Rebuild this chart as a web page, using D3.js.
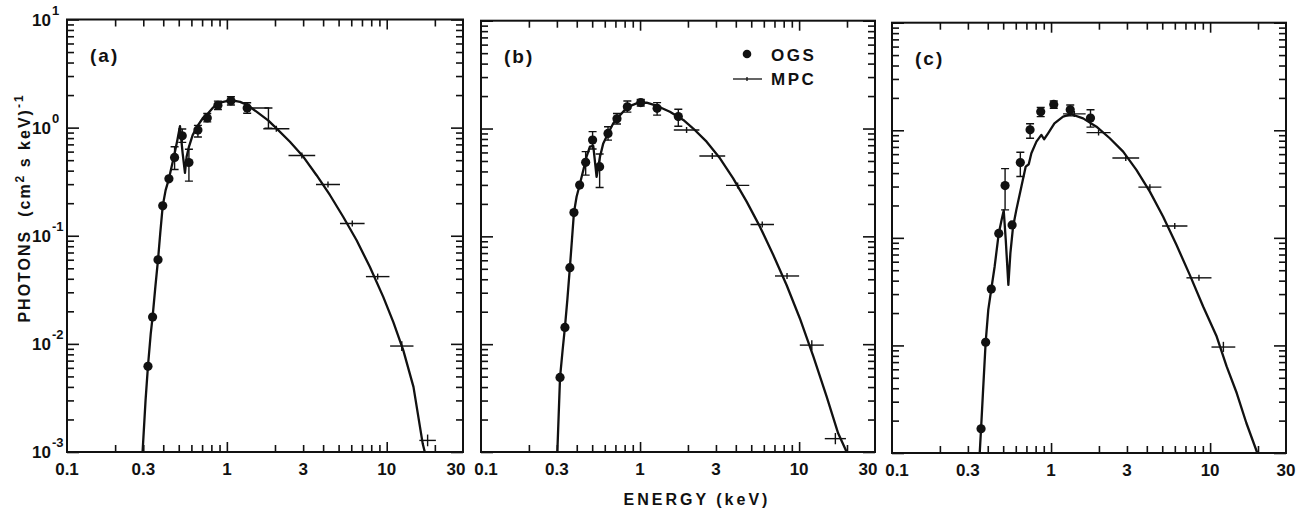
<!DOCTYPE html>
<html>
<head>
<meta charset="utf-8">
<script src="https://cdnjs.cloudflare.com/ajax/libs/d3/7.8.5/d3.min.js"></script>
<style>
  body { margin: 0; background: #fff; }
  text { font-family: "Liberation Sans", Arial, sans-serif; font-weight: bold; fill: #111; }
</style>
</head>
<body>
<div id="chart"></div>
<script>
// x ticks (keV) and y decades
var xTickValues = [0.1, 0.3, 1, 3, 10, 30];
var xTickLabels = ["0.1", "0.3", "1", "3", "10", "30"];
var yDecades = [1, 0, -1, -2, -3];

// model curves [energy keV, photons]
var modelA = [[0.297,0.001],[0.310,0.0030],[0.321,0.00624],[0.334,0.0124],[0.343,0.0177],[0.357,0.0336],[0.371,0.060],[0.383,0.105],[0.397,0.189],[0.414,0.264],[0.434,0.336],[0.456,0.466],[0.471,0.577],[0.490,0.766],[0.509,1.03],[0.529,0.577],[0.547,0.382],[0.560,0.537],[0.579,0.665],[0.611,0.853],[0.659,1.05],[0.712,1.24],[0.754,1.33],[0.823,1.54],[0.906,1.70],[1.06,1.80],[1.21,1.73],[1.34,1.62],[1.54,1.40],[1.82,1.16],[2.05,0.98],[2.48,0.74],[3.01,0.537],[3.64,0.363],[4.42,0.237],[5.35,0.149],[6.48,0.0908],[7.85,0.0514],[9.51,0.0272],[11.0,0.0159],[12.7,0.0087],[14.7,0.0040],[16.8,0.00119],[17.3,0.001]];
var modelB = [[0.302,0.001],[0.314,0.00492],[0.326,0.00883],[0.337,0.0143],[0.349,0.0257],[0.362,0.0512],[0.373,0.0925],[0.384,0.166],[0.399,0.233],[0.417,0.299],[0.440,0.412],[0.461,0.548],[0.484,0.679],[0.508,0.689],[0.533,0.357],[0.560,0.548],[0.587,0.728],[0.629,0.90],[0.679,1.12],[0.748,1.33],[0.832,1.58],[0.951,1.71],[1.10,1.74],[1.28,1.62],[1.54,1.43],[1.87,1.20],[2.16,1.00],[2.62,0.755],[3.18,0.529],[3.85,0.345],[4.68,0.210],[5.67,0.123],[6.88,0.0672],[8.34,0.0354],[10.1,0.0174],[12.3,0.00766],[14.9,0.00326],[17.6,0.00149],[19.9,0.001]];
var modelC = [[0.356,0.001],[0.363,0.00168],[0.373,0.0036],[0.388,0.0107],[0.403,0.0214],[0.421,0.0334],[0.442,0.0542],[0.469,0.110],[0.489,0.147],[0.504,0.180],[0.519,0.0958],[0.539,0.0366],[0.555,0.0721],[0.577,0.127],[0.605,0.182],[0.651,0.300],[0.693,0.460],[0.724,0.483],[0.752,0.611],[0.809,0.785],[0.869,0.906],[0.904,0.825],[0.958,0.938],[1.05,1.16],[1.19,1.34],[1.34,1.41],[1.59,1.29],[1.93,1.08],[2.34,0.843],[2.84,0.634],[3.44,0.428],[4.18,0.269],[5.06,0.158],[6.14,0.0861],[7.45,0.0453],[9.04,0.0230],[11.0,0.0121],[12.7,0.00638],[14.7,0.00361],[16.9,0.0019],[19.8,0.001]];

// OGS points [energy, photons, low, high]
var ogsA = [[0.321,0.0062],[0.343,0.0177],[0.371,0.060],[0.397,0.189],[0.434,0.336],[0.471,0.53,0.41,0.665],[0.526,0.84,0.73,0.97],[0.579,0.476,0.32,0.63],[0.659,0.95,0.82,1.05],[0.754,1.23,1.13,1.35],[0.879,1.61,1.47,1.76],[1.06,1.77,1.62,1.93],[1.34,1.52,1.36,1.70]];
var ogsB = [[0.314,0.00492],[0.337,0.0143],[0.362,0.0512],[0.384,0.166],[0.417,0.299],[0.455,0.486,0.37,0.61],[0.503,0.782,0.645,0.935],[0.557,0.443,0.284,0.58],[0.629,0.90,0.78,1.04],[0.716,1.23,1.10,1.38],[0.832,1.59,1.42,1.80],[1.01,1.74,1.62,1.86],[1.28,1.54,1.33,1.74],[1.74,1.29,1.05,1.51]];
var ogsC = [[0.363,0.00168],[0.388,0.0107],[0.421,0.0334],[0.469,0.110],[0.514,0.306,0.182,0.44],[0.569,0.132],[0.641,0.501,0.372,0.625],[0.738,1.01,0.843,1.15],[0.861,1.49,1.34,1.63],[1.04,1.74,1.60,1.87],[1.32,1.55,1.36,1.72],[1.77,1.30,1.07,1.55]];

// MPC bins [eLow, eHigh, photons, low, high, energy of error bar]
var mpcA = [[1.36,1.84,1.52,0.99,1.52,1.82],[1.69,2.46,0.975],[2.43,3.57,0.553],[3.61,5.10,0.298],[5.10,7.27,0.130],[7.41,10.4,0.0419],[10.5,14.7,0.00955,0.0086,0.0106],[16.0,20.3,0.00128,0.00113,0.00145]];
var mpcB = [[1.63,2.36,0.968],[2.36,3.43,0.556],[3.47,4.86,0.297],[4.95,6.95,0.129],[7.05,10.0,0.0429],[10.1,14.3,0.0098,0.0088,0.0109],[14.5,19.7,0.00133,0.00118,0.0015]];
var mpcC = [[1.19,1.65,1.42],[1.67,2.37,0.951],[2.43,3.58,0.553],[3.54,4.94,0.296],[4.99,7.20,0.129],[7.10,10.2,0.0425],[10.2,14.4,0.00966,0.0087,0.0108]];

var svgWidth = 1307;
var svgHeight = 509;

var svg = d3.select("#chart")
  .append("svg")
  .attr("width", svgWidth)
  .attr("height", svgHeight);

var panels = [
  { label: "(a)", model: modelA, ogs: ogsA, mpc: mpcA, left: 67, right: 463, top: 19.5, bottom: 452 },
  { label: "(b)", model: modelB, ogs: ogsB, mpc: mpcB, left: 481, right: 875, top: 20.7, bottom: 452 },
  { label: "(c)", model: modelC, ogs: ogsC, mpc: mpcC, left: 892, right: 1286, top: 22.7, bottom: 453 }
];

// tick values
var yMajor = yDecades.map(d => Math.pow(10, d));
var yMinor = [];
[-3, -2, -1, 0].forEach(function(d) {
  for (var k = 2; k <= 9; k++) yMinor.push(k * Math.pow(10, d));
});
var xMajor = [1, 10];
var xMinor = [0.2, 0.3, 0.4, 0.5, 0.6, 0.7, 0.8, 0.9, 2, 3, 4, 5, 6, 7, 8, 9, 20];

function tickAxis(g, axis) {
  g.call(axis);
  g.select(".domain").remove();
  g.selectAll(".tick line").attr("stroke", "#111").attr("stroke-width", 1.6);
  g.selectAll(".tick text").remove();
}

panels.forEach(function(p, i) {
  var x = d3.scaleLog().domain([0.1, 30]).range([p.left, p.right]);
  var y = d3.scaleLog().domain([1e-3, 10]).range([p.bottom, p.top]);

  var g = svg.append("g");

  svg.append("clipPath").attr("id", "clip" + i)
    .append("rect")
    .attr("x", p.left).attr("y", p.top)
    .attr("width", p.right - p.left).attr("height", p.bottom - p.top);

  // inward ticks on all four sides
  [[yMinor, 7], [yMajor, 12]].forEach(function(t) {
    g.append("g").attr("transform", `translate(${p.left},0)`)
      .call(sel => tickAxis(sel, d3.axisRight(y).tickValues(t[0]).tickSize(t[1])));
    g.append("g").attr("transform", `translate(${p.right},0)`)
      .call(sel => tickAxis(sel, d3.axisLeft(y).tickValues(t[0]).tickSize(t[1])));
  });
  [[xMinor, 7], [xMajor, 10]].forEach(function(t) {
    g.append("g").attr("transform", `translate(0,${p.bottom})`)
      .call(sel => tickAxis(sel, d3.axisTop(x).tickValues(t[0]).tickSize(t[1])));
    g.append("g").attr("transform", `translate(0,${p.top})`)
      .call(sel => tickAxis(sel, d3.axisBottom(x).tickValues(t[0]).tickSize(t[1])));
  });

  // frame
  g.append("rect")
    .attr("x", p.left).attr("y", p.top)
    .attr("width", p.right - p.left).attr("height", p.bottom - p.top)
    .attr("fill", "none").attr("stroke", "#111").attr("stroke-width", 2);

  // x tick labels
  g.selectAll(null)
    .data(xTickValues)
    .enter()
    .append("text")
    .attr("x", d => x(d))
    .attr("dx", (d, j) => (j === 0 && i > 0) ? 5 : (j === xTickValues.length - 1 && i < panels.length - 1) ? -7 : 0)
    .attr("y", p.bottom + 23)
    .attr("text-anchor", "middle")
    .attr("font-size", "17px")
    .text((d, j) => xTickLabels[j]);

  // y tick labels only on the first panel
  if (i === 0) {
    yDecades.forEach(function(d) {
      var yy = y(Math.pow(10, d));
      g.append("text")
        .attr("x", p.left - 16).attr("y", yy + 6)
        .attr("text-anchor", "end")
        .attr("font-size", "17px")
        .text("10");
      g.append("text")
        .attr("x", p.left - 15).attr("y", yy - 5)
        .attr("text-anchor", "start")
        .attr("font-size", "13px")
        .text(d < 0 ? "-" + (-d) : String(d));
    });
  }

  // panel label
  g.append("text")
    .attr("x", p.left + 23).attr("y", p.top + 42)
    .attr("font-size", "19px")
    .attr("letter-spacing", "2px")
    .text(p.label);

  var plot = g.append("g").attr("clip-path", `url(#clip${i})`);

  // model curve
  var line = d3.line()
    .x(d => x(d[0]))
    .y(d => y(d[1]));

  plot.append("path")
    .datum(p.model)
    .attr("d", line)
    .attr("fill", "none")
    .attr("stroke", "#111")
    .attr("stroke-width", 2.3)
    .attr("stroke-linejoin", "round");

  // MPC crosses
  p.mpc.forEach(function(d) {
    plot.append("line")
      .attr("x1", x(d[0])).attr("x2", x(d[1]))
      .attr("y1", y(d[2])).attr("y2", y(d[2]))
      .attr("stroke", "#111").attr("stroke-width", 1.4);
    var ex = d[5] ? x(d[5]) : x(Math.sqrt(d[0] * d[1]));
    var lo = d[3] ? y(d[3]) : y(d[2]) + 3;
    var hi = d[4] ? y(d[4]) : y(d[2]) - 3;
    plot.append("line")
      .attr("x1", ex).attr("x2", ex)
      .attr("y1", lo).attr("y2", hi)
      .attr("stroke", "#111").attr("stroke-width", 1.4);
    if (d[5]) {
      [lo, hi].forEach(function(yy) {
        plot.append("line")
          .attr("x1", ex - 4).attr("x2", ex + 4)
          .attr("y1", yy).attr("y2", yy)
          .attr("stroke", "#111").attr("stroke-width", 1.4);
      });
    }
  });

  // OGS error bars and dots
  p.ogs.filter(d => d.length > 2).forEach(function(d) {
    var xx = x(d[0]);
    plot.append("line")
      .attr("x1", xx).attr("x2", xx)
      .attr("y1", y(d[2])).attr("y2", y(d[3]))
      .attr("stroke", "#111").attr("stroke-width", 1.4);
    [d[2], d[3]].forEach(function(v) {
      plot.append("line")
        .attr("x1", xx - 4).attr("x2", xx + 4)
        .attr("y1", y(v)).attr("y2", y(v))
        .attr("stroke", "#111").attr("stroke-width", 1.4);
    });
  });

  plot.selectAll("circle")
    .data(p.ogs)
    .enter()
    .append("circle")
    .attr("cx", d => x(d[0]))
    .attr("cy", d => y(d[1]))
    .attr("r", 4.6)
    .attr("fill", "#111");
});

// legend in panel (b)
var legend = svg.append("g");
legend.append("circle").attr("cx", 747).attr("cy", 54).attr("r", 4.3).attr("fill", "#111");
legend.append("text").attr("x", 771).attr("y", 61).attr("font-size", "17px").attr("letter-spacing", "2.5px").text("OGS");
legend.append("line").attr("x1", 733).attr("x2", 762).attr("y1", 79).attr("y2", 79)
  .attr("stroke", "#111").attr("stroke-width", 1.3);
legend.append("line").attr("x1", 747).attr("x2", 747).attr("y1", 77).attr("y2", 81)
  .attr("stroke", "#111").attr("stroke-width", 1.3);
legend.append("text").attr("x", 771).attr("y", 85).attr("font-size", "17px").attr("letter-spacing", "2.5px").text("MPC");

// axis titles
svg.append("text")
  .attr("x", 697).attr("y", 505)
  .attr("text-anchor", "middle")
  .attr("font-size", "16px")
  .attr("letter-spacing", "3px")
  .text("ENERGY (keV)");

var yTitle = svg.append("text")
  .attr("transform", "translate(30, 208) rotate(-90)")
  .attr("text-anchor", "middle")
  .attr("font-size", "16px")
  .attr("letter-spacing", "2px");
yTitle.append("tspan").text("PHOTONS\u00a0\u00a0(cm");
yTitle.append("tspan").attr("dy", -6).attr("font-size", "12px").text("2");
yTitle.append("tspan").attr("dy", 6).text(" s keV)");
yTitle.append("tspan").attr("dy", -7).attr("font-size", "12px").text("-1");
</script>
</body>
</html>
